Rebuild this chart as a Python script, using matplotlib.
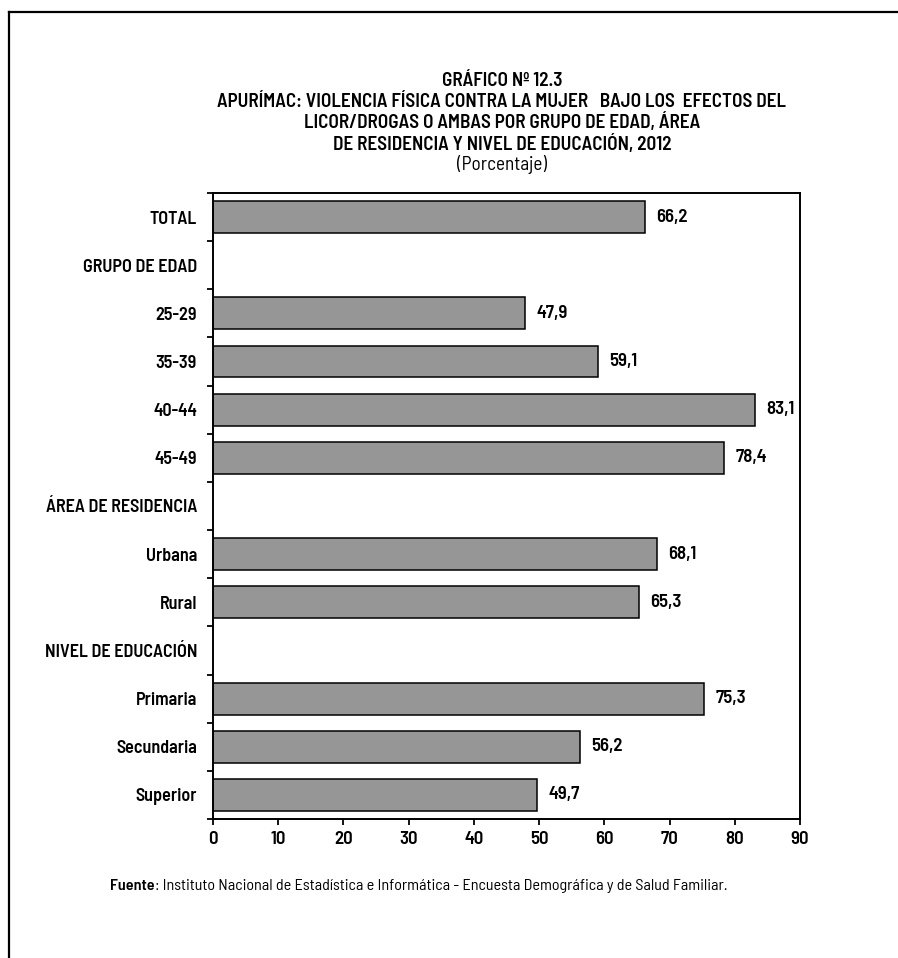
import numpy as np
import matplotlib
matplotlib.use("Agg")
import matplotlib.pyplot as plt
from matplotlib.lines import Line2D

plt.rcParams['font.family'] = ['Barlow Semi Condensed', 'DejaVu Sans']

# data
categories = ["TOTAL", "GRUPO DE EDAD", "25-29", "35-39", "40-44", "45-49",
              "ÁREA DE RESIDENCIA", "Urbana", "Rural", "NIVEL DE EDUCACIÓN",
              "Primaria", "Secundaria", "Superior"]
values = [66.2, None, 47.9, 59.1, 83.1, 78.4, None, 68.1, 65.3, None, 75.3, 56.2, 49.7]
x_ticks = [0, 10, 20, 30, 40, 50, 60, 70, 80, 90]

title_lines = ["GRÁFICO Nº 12.3",
               "APURÍMAC: VIOLENCIA FÍSICA CONTRA LA MUJER   BAJO LOS  EFECTOS DEL",
               "LICOR/DROGAS O AMBAS POR GRUPO DE EDAD, ÁREA",
               "DE RESIDENCIA Y NIVEL DE EDUCACIÓN, 2012",
               "(Porcentaje)"]

BOLD = "semibold"
W, H = 898, 958
fig = plt.figure(figsize=(W / 100, H / 100), dpi=100)
ax = fig.add_axes([213 / W, 1 - 819 / H, (800 - 213) / W, (819 - 193) / H])

n = len(categories)
ypos = np.arange(n)
for y, v in zip(ypos, values):
    if v is None:
        continue
    ax.barh(y, v, height=0.66, color="#969696", edgecolor="black", linewidth=1.1)
    ax.annotate(f"{v:.1f}".replace(".", ","), xy=(v, y), xytext=(8, 0),
                textcoords="offset points", va="center", ha="left",
                fontsize=13.5, fontweight=BOLD)

ax.set_xlim(0, 90)
ax.set_ylim(n - 0.5, -0.5)
ax.set_xticks(x_ticks)
ax.set_xticklabels([str(t) for t in x_ticks], fontsize=13.5, fontweight=BOLD)
ax.tick_params(axis="x", length=4, width=1.3, pad=5)

# boundary ticks without labels, category labels at centers
ax.set_yticks(np.arange(n + 1) - 0.5)
ax.set_yticklabels([])
ax.tick_params(axis="y", which="major", length=4, width=1.3)
ax.set_yticks(ypos, minor=True)
ax.set_yticklabels(categories, minor=True, fontsize=13, fontweight=BOLD)
ax.tick_params(axis="y", which="minor", length=0, pad=11.5)

for s in ax.spines.values():
    s.set_linewidth(1.4)

# title
for i, line in enumerate(title_lines):
    fig.text(502 / W, 1 - (81 + 21 * i) / H, line, ha="center", va="center",
             fontsize=13.8, fontweight=BOLD if i < 4 else "normal")

# source note
t1 = fig.text(110 / W, 1 - 886 / H, "Fuente", ha="left", va="center",
              fontsize=11.6, fontweight=BOLD)
fig.canvas.draw()
bb = t1.get_window_extent()
fig.text(bb.x1 / W, 1 - 886 / H,
         ": Instituto Nacional de Estadística e Informática - Encuesta Demográfica y de Salud Familiar.",
         ha="left", va="center", fontsize=11.6)

# outer frame (left and top edges)
fig.add_artist(Line2D([9 / W, 9 / W], [0, 1 - 12 / H], color="black", linewidth=1.6,
                      transform=fig.transFigure))
fig.add_artist(Line2D([9 / W, 1], [1 - 12 / H, 1 - 12 / H], color="black", linewidth=1.6,
                      transform=fig.transFigure))

fig.savefig("out.png", dpi=100)
